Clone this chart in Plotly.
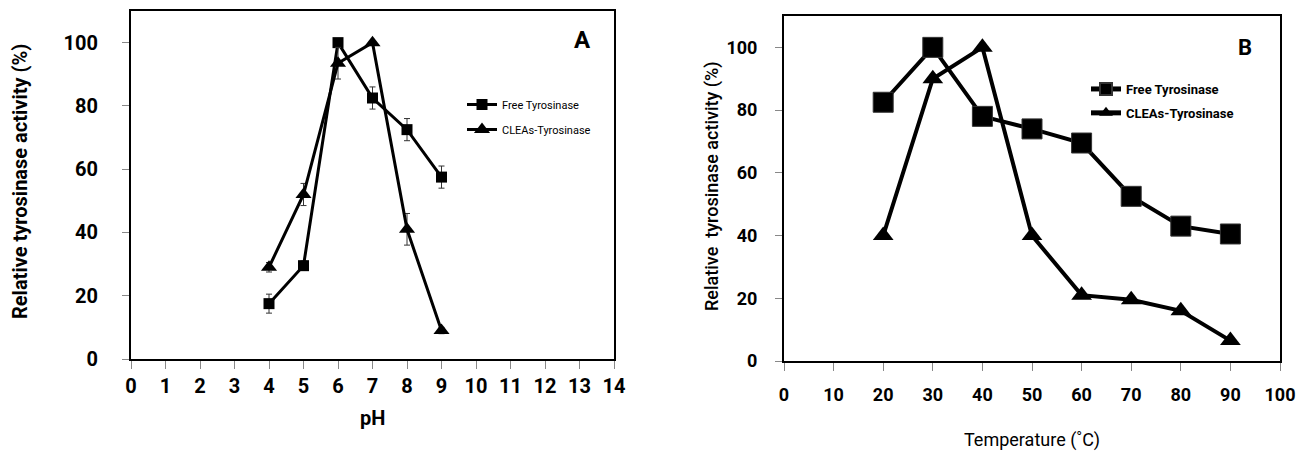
import plotly.graph_objects as go

# ---- Panel A: pH ----
ph = [4, 5, 6, 7, 8, 9]
free_ph = [17.5, 29.5, 100, 82.5, 72.5, 57.5]
free_ph_err = [3, 1.5, 0, 3.5, 3.5, 3.5]
clea_ph = [29, 52, 93.5, 100, 41, 9]
clea_ph_err = [1.5, 3.5, 5, 0, 5, 1]

# ---- Panel B: Temperature ----
temp = [20, 30, 40, 50, 60, 70, 80, 90]
free_t = [82.5, 100, 78, 74, 69.5, 52.5, 43, 40.5]
clea_t = [40, 90, 100, 40, 21, 19.5, 16, 6.5]

ph_ticks = list(range(0, 15))
temp_ticks = list(range(0, 101, 10))
y_ticks = [0, 20, 40, 60, 80, 100]

FONT = "Roboto, 'Liberation Sans', Arial, sans-serif"
W, H = 1299, 452

fig = go.Figure()

fig.add_trace(go.Scatter(
    x=ph, y=free_ph, name="Free Tyrosinase", mode="lines+markers",
    line=dict(color="black", width=3),
    marker=dict(symbol="square", size=11, color="black"),
    error_y=dict(type="data", array=free_ph_err, color="#333", thickness=1, width=3),
    xaxis="x", yaxis="y", legend="legend", legendgroup="a1"))
fig.add_trace(go.Scatter(
    x=ph, y=clea_ph, name="CLEAs-Tyrosinase", mode="lines+markers",
    line=dict(color="black", width=3),
    marker=dict(symbol="triangle-up", size=14, color="black"),
    error_y=dict(type="data", array=clea_ph_err, color="#333", thickness=1, width=3),
    xaxis="x", yaxis="y", legend="legend", legendgroup="a2"))

fig.add_trace(go.Scatter(
    x=temp, y=free_t, name="Free Tyrosinase", mode="lines+markers",
    line=dict(color="black", width=4),
    marker=dict(symbol="square", size=20, color="black",
                line=dict(color="#333", width=1)),
    xaxis="x2", yaxis="y2", legend="legend2", legendgroup="b1"))
fig.add_trace(go.Scatter(
    x=temp, y=clea_t, name="CLEAs-Tyrosinase", mode="lines+markers",
    line=dict(color="black", width=4),
    marker=dict(symbol="triangle-up", size=18, color="black"),
    xaxis="x2", yaxis="y2", legend="legend2", legendgroup="b2"))

A_x = [131 / W, 614 / W]
A_y = [1 - 359 / H, 1 - 11 / H]
B_x = [784 / W, 1280 / W]
B_y = [1 - 361 / H, 1 - 16 / H]

axis_common = dict(showline=True, linecolor="black", linewidth=2, mirror=True,
                   ticks="outside", tickcolor="#888", tickwidth=1,
                   showgrid=False, zeroline=False, automargin=False)

fig.update_layout(
    width=W, height=H,
    margin=dict(l=0, r=0, t=0, b=0, autoexpand=False),
    paper_bgcolor="white", plot_bgcolor="white",
    font=dict(family=FONT, color="black"),
    xaxis=dict(domain=A_x, range=[0, 14], tickvals=ph_ticks, ticklen=8,
               ticklabelstandoff=0, anchor="y",
               tickfont=dict(size=20, weight="bold"), **axis_common),
    yaxis=dict(domain=A_y, range=[0, 110], tickvals=y_ticks, ticklen=7,
               ticklabelstandoff=20, anchor="x",
               tickfont=dict(size=20, weight="bold"), **axis_common),
    xaxis2=dict(domain=B_x, range=[0, 100], tickvals=temp_ticks, ticklen=8,
                ticklabelstandoff=8, anchor="y2",
                tickfont=dict(size=18, weight="bold"), **axis_common),
    yaxis2=dict(domain=B_y, range=[0, 110], tickvals=y_ticks, ticklen=7,
                ticklabelstandoff=14, anchor="x2",
                tickfont=dict(size=18, weight="bold"), **axis_common),
    legend=dict(x=462 / W, y=1 - 90 / H, xanchor="left", yanchor="top",
                bgcolor="rgba(0,0,0,0)", tracegroupgap=6,
                font=dict(size=11, family=FONT), itemwidth=30),
    legend2=dict(x=1086 / W, y=1 - 74 / H, xanchor="left", yanchor="top",
                 bgcolor="rgba(0,0,0,0)", tracegroupgap=4, itemsizing="constant",
                 font=dict(size=13, family=FONT, weight="bold"), itemwidth=30),
    annotations=[
        dict(text="A", x=582 / W, y=1 - 40 / H, xref="paper", yref="paper",
             xanchor="center", yanchor="middle",
             showarrow=False, font=dict(size=24, weight="bold")),
        dict(text="B", x=1245 / W, y=1 - 48 / H, xref="paper", yref="paper",
             xanchor="center", yanchor="middle",
             showarrow=False, font=dict(size=22, weight="bold")),
        dict(text="pH", x=(A_x[0] + A_x[1]) / 2, y=1 - 418 / H, xref="paper", yref="paper",
             xanchor="center", yanchor="middle",
             showarrow=False, font=dict(size=20, weight="bold")),
        dict(text="Temperature (˚C)", x=(B_x[0] + B_x[1]) / 2, y=1 - 440 / H,
             xref="paper", yref="paper", xanchor="center", yanchor="middle",
             showarrow=False, font=dict(size=18)),
        dict(text="Relative tyrosinase activity (%)", x=20 / W, y=1 - 182 / H,
             xref="paper", yref="paper", xanchor="center", yanchor="middle",
             showarrow=False, textangle=-90,
             font=dict(size=20, weight="bold")),
        dict(text="Relative  tyrosinase activity (%)", x=712 / W, y=1 - 186 / H,
             xref="paper", yref="paper", xanchor="center", yanchor="middle",
             showarrow=False, textangle=-90,
             font=dict(size=18, weight=500)),
    ],
)

fig.write_html(
    "out.html",
    config={"displayModeBar": False},
    post_script="document.body.style.margin='0';document.body.style.overflow='hidden';",
)
